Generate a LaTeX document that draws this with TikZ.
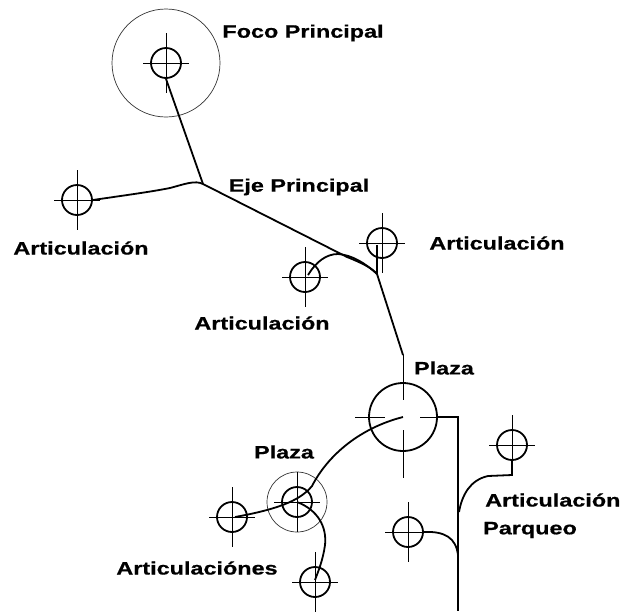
\documentclass[tikz,border=0pt]{standalone}
\usepackage{fontspec}
\newfontfamily\rotulo[FakeStretch=1.3,FakeBold=0.6]{Liberation Sans}
\usetikzlibrary{calc}

\begin{document}
\begin{tikzpicture}[x=1pt,y=-1pt,
  nudo/.style={draw,circle,line width=1.8pt,minimum size=30pt,inner sep=0pt},
  aro/.style={draw=black!80,circle,line width=0.7pt,inner sep=0pt},
  cruz/.style={line width=0.8pt},
  via/.style={line width=1.8pt},
  txt/.style={font=\rotulo\bfseries\fontsize{18}{20}\selectfont,inner sep=0pt}]
\useasboundingbox (0,0) rectangle (628,611);

% focos y plazas
\node[aro,minimum size=108pt] (focoA) at (166,63) {};
\node[nudo] (foco) at (166,63) {};
\node[nudo,minimum size=68pt] (plaza) at (403,417) {};
\node[aro,minimum size=60pt] (plazitaA) at (297,502) {};
\node[nudo] (plazita) at (297,502) {};

% articulaciones
\node[nudo] (artO) at (77,200) {};
\node[nudo] (artE) at (382,243) {};
\node[nudo] (artM) at (305,277) {};
\node[nudo] (artP) at (512,445) {};
\node[nudo] (artQ) at (408,532) {};
\node[nudo] (artI) at (232,517) {};
\node[nudo] (artB) at (315,582) {};

\foreach \n in {foco,plazita,artO,artE,artM,artP,artQ,artI,artB}
  \draw[cruz] ($(\n)+(-23,0)$) -- ($(\n)+(23,0)$) ($(\n)+(0,-30)$) -- ($(\n)+(0,30)$);
\draw[cruz] ($(plaza)+(0,-62)$) -- ($(plaza)+(0,-17)$)
            ($(plaza)+(0,13)$) -- ($(plaza)+(0,61)$)
            ($(plaza)+(-48,0)$) -- ($(plaza)+(-18,0)$)
            ($(plaza)+(17,0)$) -- ($(plaza)+(44,0)$);

% eje principal
\coordinate (eje) at (203,184);
\coordinate (codo) at (377,274);
\coordinate (llega) at (403,355);
\coordinate (esq) at (458,417);
\coordinate (fin) at (458,611);
\coordinate (pq) at (459,512);
\coordinate (pq2) at (458,555);

\draw[via] (foco.south) -- (eje);
\draw[via] (eje) .. controls (195,180) and (185,184) .. (170,188)
  .. controls (150,192) and (120,196) .. (artO.east);
\draw[via] (eje) -- (347,257) .. controls (362,263) and (372,268) .. (codo) -- (llega);
\draw[via] ($(artE)+(-5,2)$) -- (codo);
\draw[via] ($(artM)+(3,-2)$) .. controls (316,262) and (326,254) .. (338,254)
  .. controls (352,255) and (365,263) .. (codo);

% plazas y parqueo
\draw[via] (plaza.east) -- (esq) -- (fin);
\draw[via] (artP.south) -- (512,475) -- (488,476)
  .. controls (470,480) and (462,495) .. (pq);
\draw[via] (artQ.east) .. controls (445,531) and (456,538) .. (pq2);
\draw[via] (plaza.center) .. controls (360,428) and (328,455) .. (312,486)
  .. controls (302,498) and (285,508) .. ($(artI)+(3,0)$);
\draw[via] (plazita.center) .. controls (318,510) and (327,527) .. (325,545)
  .. controls (323,560) and (318,572) .. ($(artB)+(0,-2)$);

% rotulos
\node[txt] (tFoco) at (303,33) {Foco Principal};
\node[txt] (tEje) at (299,187) {Eje Principal};
\node[txt] (tArtO) at (81,248) {Articulación};
\node[txt] (tArtE) at (497,243) {Articulación};
\node[txt] (tArtM) at (262,323) {Articulación};
\node[txt] (tPlaza) at (444,368) {Plaza};
\node[txt] (tPlazita) at (284,452) {Plaza};
\node[txt] (tArtI) at (197,568) {Articulaciónes};
\node[txt,anchor=west] (tArtP) at (485,500) {Articulación};
\node[txt,anchor=west] (tParq) at (483,530) {Parqueo};
\end{tikzpicture}
\end{document}
